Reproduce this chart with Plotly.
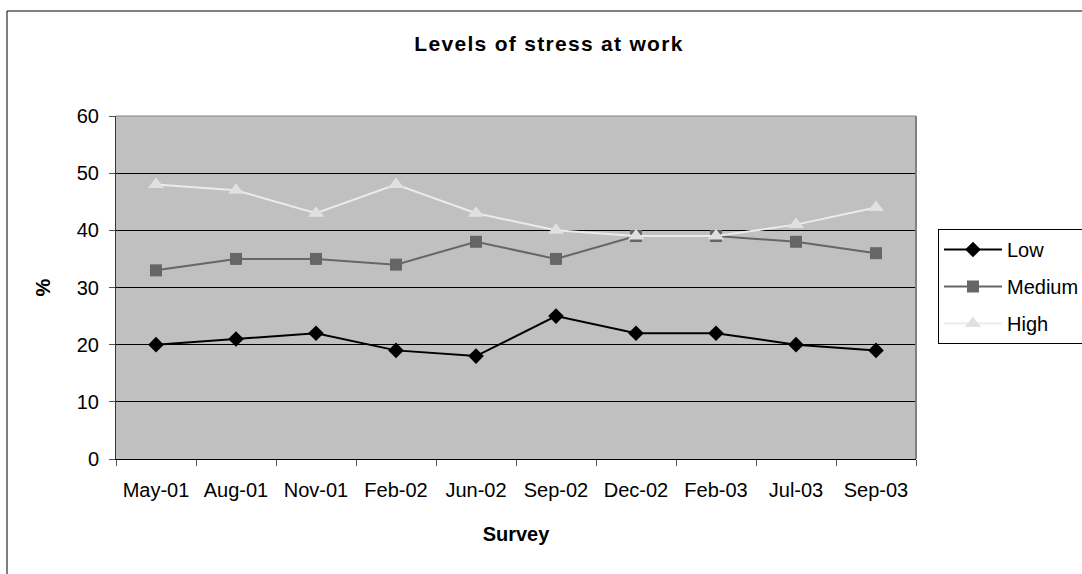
import plotly.graph_objects as go

# Survey dates and stress levels (%)
surveys = ["May-01", "Aug-01", "Nov-01", "Feb-02", "Jun-02",
           "Sep-02", "Dec-02", "Feb-03", "Jul-03", "Sep-03"]
low = [20, 21, 22, 19, 18, 25, 22, 22, 20, 19]
medium = [33, 35, 35, 34, 38, 35, 39, 39, 38, 36]
high = [48, 47, 43, 48, 43, 40, 39, 39, 41, 44]
y_ticks = [0, 10, 20, 30, 40, 50, 60]

FONT = "Liberation Sans, Arial, sans-serif"
W, H = 1082, 574
L, T, R, B = 116, 116, 166, 115
PW, PH = W - L - R, H - T - B


def px_to_paper_x(px):
    return (px - L) / PW


def px_to_paper_y(py):
    return (H - B - py) / PH


fig = go.Figure()
series = [
    ("Low", low, "#000000", "#000000", "diamond", 12),
    ("Medium", medium, "#666666", "#666666", "square", 12),
    ("High", high, "#EBEBEB", "#E0E0E0", "triangle-up", 14),
]
for name, vals, lcol, mcol, sym, size in series:
    fig.add_trace(go.Scatter(
        x=surveys, y=vals, name=name, legendgroup=name,
        mode="lines+markers",
        line=dict(color=lcol, width=2),
        marker=dict(symbol=sym, size=size, color=mcol,
                    line=dict(width=0)),
    ))

fig.update_layout(
    width=W, height=H,
    margin=dict(l=L, r=R, t=T, b=B, autoexpand=False),
    paper_bgcolor="white",
    plot_bgcolor="#C0C0C0",
    font=dict(family=FONT, size=20, color="black"),
    title=dict(text='<b><span style="letter-spacing:1.3px">Levels of stress at work</span></b>',
               x=549 / W, xanchor="center", xref="container",
               y=1 - 44 / H, yanchor="middle", yref="container",
               font=dict(family=FONT, size=21, color="black")),
    showlegend=True,
    legend=dict(x=px_to_paper_x(938), y=px_to_paper_y(229),
                xanchor="left", yanchor="top",
                bgcolor="white", bordercolor="black", borderwidth=1,
                font=dict(family=FONT, size=20, color="black"),
                tracegroupgap=8, itemwidth=58, itemsizing="trace"),
    xaxis=dict(
        type="category", categoryorder="array", categoryarray=surveys,
        range=[-0.5, len(surveys) - 0.5],
        tickson="boundaries", ticks="outside", ticklen=6,
        tickcolor="#555555", tickwidth=1,
        showline=True, linecolor="black", linewidth=1,
        showgrid=False, zeroline=False,
        ticklabelstandoff=13,
        tickfont=dict(family=FONT, size=20),
        title=dict(text="<b>Survey</b>", standoff=26,
                   font=dict(family=FONT, size=20)),
    ),
    yaxis=dict(
        range=[0, 60], tickvals=y_ticks,
        ticks="outside", ticklen=6, tickcolor="#555555", tickwidth=1,
        showline=True, linecolor="#333333", linewidth=1,
        showgrid=True, gridcolor="black", gridwidth=1,
        zeroline=False,
        ticklabelstandoff=6,
        tickfont=dict(family=FONT, size=20),
        title=dict(text="<b>%</b>", standoff=20,
                   font=dict(family=FONT, size=20)),
    ),
    shapes=[
        # plot-area frame: top and right edges
        dict(type="line", xref="paper", yref="paper", x0=0, x1=1, y0=1, y1=1,
             line=dict(color="#808080", width=1), layer="above"),
        dict(type="line", xref="paper", yref="paper", x0=1, x1=1, y0=0, y1=1,
             line=dict(color="#808080", width=2), layer="above"),
        # chart-area frame
        dict(type="rect", xref="paper", yref="paper",
             x0=px_to_paper_x(7), x1=px_to_paper_x(W + 40),
             y0=px_to_paper_y(H + 40), y1=px_to_paper_y(11),
             line=dict(color="black", width=1), layer="below"),
    ],
)

fig.write_html("out.html")
